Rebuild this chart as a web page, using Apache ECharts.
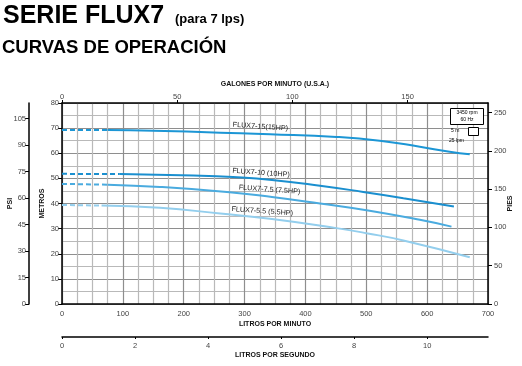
<!DOCTYPE html>
<html>
<head>
<meta charset="utf-8">
<script src="https://cdn.jsdelivr.net/npm/echarts@6/dist/echarts.min.js"></script>
<style>html,body{margin:0;padding:0;background:#fff}#c{width:522px;height:366px}</style>
</head>
<body>
<div id="c"></div>
<script>
// ---- data (lpm, metros) ----
const hp15Dash = [[0, 69.3], [75, 69.3]];
const hp15 = [[75, 69.3], [150, 69.0], [260, 68.2], [342, 67.6], [451, 66.5], [522, 65.0], [588, 62.6], [637, 60.6], [670, 59.6]];
const hp10Dash = [[0, 51.8], [95, 51.7]];
const hp10 = [[95, 51.7], [216, 51.1], [281, 50.5], [345, 49.4], [424, 47.1], [495, 44.6], [561, 42.1], [644, 38.8]];
const hp75Dash = [[0, 47.8], [75, 47.5]];
const hp75 = [[75, 47.5], [161, 46.6], [271, 44.6], [345, 42.6], [424, 40.0], [503, 37.2], [588, 33.5], [640, 30.8]];
const hp55Dash = [[0, 39.4], [65, 39.2]];
const hp55 = [[65, 39.2], [161, 38.3], [260, 36.0], [345, 33.8], [451, 30.2], [500, 28.2], [561, 25.3], [670, 18.6]];

const curveNames = ['FLUX7-15(15HP)', 'FLUX7-10 (10HP)', 'FLUX7-7.5 (7.5HP)', 'FLUX7-5.5 (5.5HP)'];
const labelAt = [[326, 70.6], [327, 52.2], [341, 45.5], [329, 36.9]];

// ---- axis ranges & tick labels ----
const lpmMax = 700, mMax = 80;
const gpmMax = lpmMax / 3.78541;
const lpsMax = lpmMax / 60;
const psiMax = mMax * 1.42197;
const piesMax = mMax * 3.28084;
const gpmTicks = [0, 50, 100, 150];
const lpsTicks = [0, 2, 4, 6, 8, 10];
const psiTicks = [0, 15, 30, 45, 60, 75, 90, 105];
const piesTicks = [0, 50, 100, 150, 200, 250];

const colors = ['#1c96d5', '#1a8fcf', '#4aabdf', '#93ceed'];
const FONT = 'Liberation Sans';

const chart = echarts.init(document.getElementById('c'));

const lbl = {fontSize: 7.5, color: '#444', fontFamily: FONT};
const nameStyle = {fontSize: 7, fontWeight: 'bold', color: '#111', fontFamily: FONT};
const blackLine = {show: true, onZero: false, lineStyle: {color: '#000', width: 1.5}};

function solid(i, data) {
  return {
    type: 'line', data: data, smooth: true, symbol: 'none', xAxisIndex: 0, yAxisIndex: 0,
    lineStyle: {color: colors[i], width: 2}, z: 5,
    markPoint: {
      symbol: 'circle', symbolSize: 0, silent: true,
      data: [{coord: labelAt[i], value: curveNames[i]}],
      label: {show: true, formatter: curveNames[i], fontSize: 7.2, color: '#222', fontFamily: FONT, rotate: -4, position: 'inside'}
    }
  };
}
function dashed(i, data) {
  return {
    type: 'line', data: data, symbol: 'none', xAxisIndex: 0, yAxisIndex: 0,
    lineStyle: {color: colors[i], width: 2, type: [5, 3]}, z: 5
  };
}

chart.setOption({
  animation: false,
  textStyle: {fontFamily: FONT},
  grid: {left: 62, right: 34, top: 103, bottom: 62, show: false, containLabel: false, outerBoundsMode: 'none'},
  xAxis: [
    {
      type: 'value', min: 0, max: lpmMax, interval: 100, position: 'bottom',
      axisLine: blackLine, axisTick: {show: false},
      axisLabel: Object.assign({margin: 6}, lbl),
      splitLine: {show: true, lineStyle: {color: '#8e8e8e', width: 1.2}},
      minorTick: {show: false, splitNumber: 4},
      minorSplitLine: {show: true, lineStyle: {color: '#b9b9b9', width: 1.2}},
      name: 'LITROS POR MINUTO', nameLocation: 'middle', nameGap: 17, nameMoveOverlap: false, nameTextStyle: nameStyle
    },
    {
      type: 'value', min: 0, max: gpmMax, position: 'top',
      axisLine: blackLine,
      axisTick: {show: true, customValues: gpmTicks, length: 3, lineStyle: {color: '#000'}},
      axisLabel: Object.assign({margin: 2, customValues: gpmTicks}, lbl),
      splitLine: {show: false},
      name: 'GALONES POR MINUTO (U.S.A.)', nameLocation: 'middle', nameGap: 15, nameMoveOverlap: false, nameTextStyle: nameStyle
    },
    {
      type: 'value', min: 0, max: lpsMax, position: 'bottom', offset: 33,
      axisLine: blackLine,
      axisTick: {show: true, customValues: lpsTicks, length: 2, lineStyle: {color: '#000'}},
      axisLabel: Object.assign({margin: 5, customValues: lpsTicks}, lbl),
      splitLine: {show: false},
      name: 'LITROS POR SEGUNDO', nameLocation: 'middle', nameGap: 15, nameMoveOverlap: false, nameTextStyle: nameStyle
    }
  ],
  yAxis: [
    {
      type: 'value', min: 0, max: mMax, interval: 10, position: 'left',
      axisLine: blackLine,
      axisTick: {show: true, length: 4, lineStyle: {color: '#000'}},
      axisLabel: Object.assign({margin: 3}, lbl),
      splitLine: {show: true, lineStyle: {color: '#8e8e8e', width: 1.2}},
      minorTick: {show: false, splitNumber: 2},
      minorSplitLine: {show: true, lineStyle: {color: '#b9b9b9', width: 1.2}},
      name: 'METROS', nameLocation: 'middle', nameGap: 16, nameRotate: 90, nameMoveOverlap: false, nameTextStyle: nameStyle
    },
    {
      type: 'value', min: 0, max: psiMax, position: 'left', offset: 33,
      axisLine: blackLine,
      axisTick: {show: true, customValues: psiTicks, length: 4, lineStyle: {color: '#000'}},
      axisLabel: Object.assign({margin: 3, customValues: psiTicks}, lbl),
      splitLine: {show: false},
      name: 'PSI', nameLocation: 'middle', nameGap: 15, nameRotate: 90, nameMoveOverlap: false, nameTextStyle: nameStyle
    },
    {
      type: 'value', min: 0, max: piesMax, position: 'right',
      axisLine: blackLine,
      axisTick: {show: true, customValues: piesTicks, length: 4, lineStyle: {color: '#000'}},
      axisLabel: Object.assign({margin: 6, customValues: piesTicks}, lbl),
      splitLine: {show: false},
      name: 'PIES', nameLocation: 'middle', nameGap: 19, nameRotate: 90, nameMoveOverlap: false, nameTextStyle: nameStyle
    }
  ],
  series: [
    dashed(0, hp15Dash), solid(0, hp15),
    dashed(1, hp10Dash), solid(1, hp10),
    dashed(2, hp75Dash), solid(2, hp75),
    dashed(3, hp55Dash), solid(3, hp55)
  ],
  graphic: [
    {type: 'text', x: 3, y: 16, style: {text: 'SERIE FLUX7', fontSize: 25, fontWeight: 'bold', fill: '#000', verticalAlign: 'middle', fontFamily: FONT}},
    {type: 'text', x: 175, y: 19, style: {text: '(para 7 lps)', fontSize: 13, fontWeight: 'bold', fill: '#000', verticalAlign: 'middle', fontFamily: FONT}},
    {type: 'text', x: 2, y: 48, style: {text: 'CURVAS DE OPERACIÓN', fontSize: 18.5, fontWeight: 'bold', fill: '#000', verticalAlign: 'middle', fontFamily: FONT}},
    {type: 'rect', shape: {x: 450.5, y: 108.5, width: 33, height: 16}, style: {fill: '#fff', stroke: '#000', lineWidth: 1}, z: 10},
    {type: 'text', x: 467, y: 113, style: {text: '3450 rpm', fontSize: 5, fill: '#000', align: 'center', verticalAlign: 'middle', fontFamily: FONT}, z: 11},
    {type: 'text', x: 467, y: 119.5, style: {text: '60 Hz', fontSize: 5, fill: '#000', align: 'center', verticalAlign: 'middle', fontFamily: FONT}, z: 11},
    {type: 'text', x: 451, y: 131, style: {text: '5 m', fontSize: 5, fill: '#000', verticalAlign: 'middle', fontFamily: FONT}, z: 11},
    {type: 'rect', shape: {x: 468.5, y: 127.5, width: 10, height: 8}, style: {fill: '#fff', stroke: '#000', lineWidth: 1}, z: 10},
    {type: 'text', x: 449, y: 141, style: {text: '25 lpm', fontSize: 5, fill: '#000', verticalAlign: 'middle', fontFamily: FONT}, z: 11}
  ]
});
</script>
</body>
</html>
